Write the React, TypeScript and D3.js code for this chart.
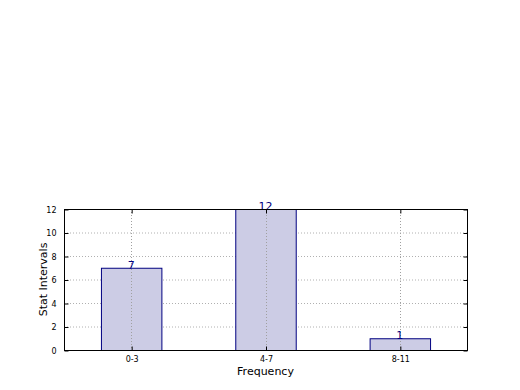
import React, { useEffect, useRef } from "react";
import * as d3 from "d3";

// chart data
const categories = ["0-3", "4-7", "8-11"];
const counts = [7, 12, 1];
const yTicks = [0, 2, 4, 6, 8, 10, 12];

const W = 520;
const H = 390;
const margin = { top: 209, right: 53, bottom: 40, left: 64 };

export default function App() {
	const ref = useRef<SVGSVGElement>(null);

	useEffect(() => {
		const root = d3.select(ref.current);
		root.selectAll("*").remove();

		const width = W - margin.left - margin.right,
			height = H - margin.top - margin.bottom;

		const svg = root
			.append("g")
			.attr("transform", "translate(" + margin.left + "," + margin.top + ")");

		// bars sit at integer positions, like matplotlib
		const x = d3.scaleLinear().domain([-0.5, 2.5]).range([0, width]);
		const y = d3.scaleLinear().domain([0, 12]).range([height, 0]);
		const barW = 0.45;

		// grid
		svg
			.append("g")
			.selectAll("line.gy")
			.data(yTicks)
			.enter()
			.append("line")
			.attr("x1", 0)
			.attr("x2", width)
			.attr("y1", d => y(d) + 0.5)
			.attr("y2", d => y(d) + 0.5)
			.attr("stroke", "#b0b0b0")
			.attr("stroke-dasharray", "1,2");

		// bars
		svg
			.selectAll("rect.bar")
			.data(counts)
			.enter()
			.append("rect")
			.attr("x", (d, i) => x(i - barW / 2) + 0.5)
			.attr("y", d => y(d) + 0.5)
			.attr("width", x(barW) - x(0))
			.attr("height", d => y(0) - y(d))
			.attr("fill", "#ccccE5")
			.attr("stroke", "#000080")
			.attr("stroke-width", 1);

		// vertical grid drawn on top of bars
		svg
			.append("g")
			.selectAll("line")
			.data(categories)
			.enter()
			.append("line")
			.attr("x1", (d, i) => Math.round(x(i)) + 0.5)
			.attr("x2", (d, i) => Math.round(x(i)) + 0.5)
			.attr("y1", 0)
			.attr("y2", height)
			.attr("stroke", "#a0a0a0")
			.attr("stroke-dasharray", "1,2");

		// value labels
		svg
			.selectAll("text.val")
			.data(counts)
			.enter()
			.append("text")
			.attr("x", (d, i) => x(i))
			.attr("y", d => y(d) + 1)
			.attr("text-anchor", "middle")
			.attr("font-family", "DejaVu Sans")
			.attr("font-size", 11)
			.attr("fill", "#000080")
			.text(d => d);

		// frame
		svg
			.append("rect")
			.attr("x", 0.5)
			.attr("y", 0.5)
			.attr("width", width)
			.attr("height", height)
			.attr("fill", "none")
			.attr("stroke", "#000");

		// y axis, ticks inward
		const yAxis = svg
			.append("g")
			.attr("transform", "translate(0.5,0.5)")
			.call(d3.axisLeft(y).tickValues(yTicks).tickSize(-4).tickPadding(8));
		yAxis.select(".domain").remove();
		yAxis.selectAll("text").attr("font-family", "DejaVu Sans").attr("font-size", 8).attr("fill", "#000");

		const yAxisR = svg
			.append("g")
			.attr("transform", "translate(" + (width + 0.5) + ",0.5)")
			.call(d3.axisRight(y).tickValues(yTicks).tickSize(-4).tickFormat(() => ""));
		yAxisR.select(".domain").remove();

		const xAxis = svg
			.append("g")
			.attr("transform", "translate(0.5," + (height + 0.5) + ")")
			.call(
				d3
					.axisBottom(x)
					.tickValues([0, 1, 2])
					.tickSize(-4)
					.tickPadding(6)
					.tickFormat(d => categories[+d])
			);
		xAxis.select(".domain").remove();
		xAxis.selectAll("text").attr("font-family", "DejaVu Sans").attr("font-size", 8).attr("fill", "#000");

		const xAxisT = svg
			.append("g")
			.attr("transform", "translate(0.5,0.5)")
			.call(d3.axisTop(x).tickValues([0, 1, 2]).tickSize(-4).tickFormat(() => ""));
		xAxisT.select(".domain").remove();

		// axis titles
		svg
			.append("text")
			.attr("x", width / 2)
			.attr("y", height + 25)
			.attr("text-anchor", "middle")
			.attr("font-family", "DejaVu Sans")
			.attr("font-size", 11)
			.text("Frequency");

		svg
			.append("text")
			.attr("transform", "translate(-17," + height / 2 + ")rotate(-90)")
			.attr("text-anchor", "middle")
			.attr("font-family", "DejaVu Sans")
			.attr("font-size", 11)
			.text("Stat Intervals");
	}, []);

	return (
		<svg
			ref={ref}
			width={W}
			height={H}
			style={{ position: "absolute", left: 0, top: 0, background: "#fff" }}
		/>
	);
}
